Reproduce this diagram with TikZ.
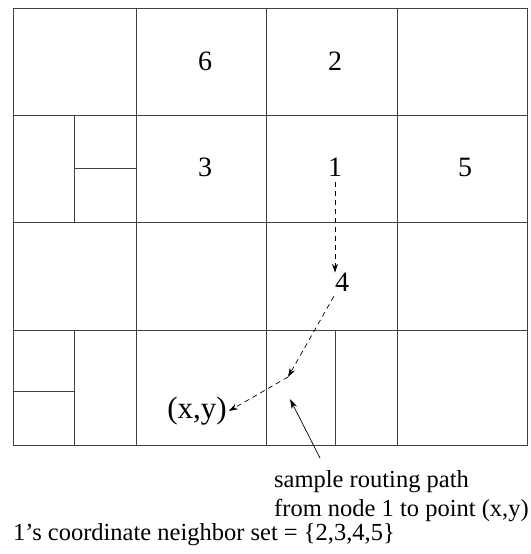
\documentclass[tikz,border=0pt]{standalone}
\usepackage{fontspec}
\setmainfont{Liberation Serif}
\usetikzlibrary{arrows.meta}

\begin{document}
\begin{tikzpicture}[x=1pt, y=-1pt,
  grid/.style ={draw=black!75, line width=0.9pt},
  lbl/.style  ={inner sep=0pt, font=\fontsize{28}{32}\selectfont},
  txt/.style  ={inner sep=0pt, font=\fontsize{24.5}{29}\selectfont, align=left},
  hop/.style  ={-{Stealth[length=9pt,width=6pt]}, black, line width=0.7pt,
                dash pattern=on 5pt off 4pt},
  note/.style ={-{Stealth[length=10pt,width=6pt]}, black, line width=0.7pt}
]
  \useasboundingbox (0,0) rectangle (530,554);

  % cells
  \draw[grid] (13,8) rectangle (527,445);
  \draw[grid] (136,8) -- (136,445)  (266,8) -- (266,445)  (397,8) -- (397,445);
  \draw[grid] (13,115) -- (527,115)  (13,222) -- (527,222)  (13,330) -- (527,330);
  \draw[grid] (74,115) -- (74,222)  (74,168) -- (136,168);
  \draw[grid] (74,330) -- (74,445)  (13,391) -- (74,391);
  \draw[grid] (335,330) -- (335,445);

  % node labels
  \node[lbl] (n6) at (205,61)  {6};
  \node[lbl] (n2) at (335,61)  {2};
  \node[lbl] (n3) at (205,167) {3};
  \node[lbl] (n1) at (335,167) {1};
  \node[lbl] (n5) at (465,167) {5};
  \node[lbl] (n4) at (342,282) {4};
  \node[lbl, font=\fontsize{31}{34}\selectfont] (xy) at (197,411) {(x,y)};

  % routing path
  \coordinate (turn) at (288,377);
  \draw[hop] ([yshift=-6pt]n1.south) -- (n1.south |- n4.north);
  \draw[hop] ([xshift=-1pt,yshift=-5pt]n4.south west) -- (turn);
  \draw[hop] (turn) -- ([xshift=2pt]xy.east);

  % annotation
  \node[txt, anchor=north west] (path) at (274,470)
    {sample routing path\\from node 1 to point (x,y)};
  \coordinate (aim) at (290,399);
  \draw[note] (320,458) -- (aim);
  \node[txt, anchor=west] (nbr) at (13,535)
    {1's coordinate neighbor set = \{2,3,4,5\}};
\end{tikzpicture}
\end{document}
